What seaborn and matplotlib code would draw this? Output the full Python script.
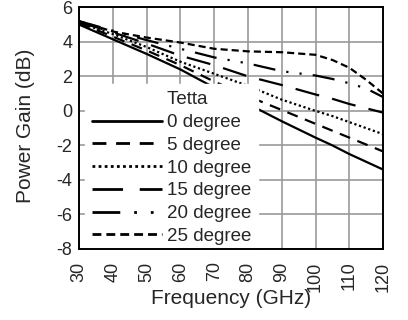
import matplotlib
matplotlib.use('Agg')
import matplotlib.pyplot as plt
import seaborn as sns
import pandas as pd

# Частоты (GHz) и усиление (dB) для каждого угла
freq = [30, 40, 50, 60, 70, 80, 90, 100, 105, 110, 115, 120]
gain_0 = [5.0, 4.15, 3.3, 2.4, 1.35, 0.4, -0.6, -1.55, -2.0, -2.5, -2.95, -3.4]
gain_5 = [5.1, 4.3, 3.5, 2.65, 1.7, 0.85, 0.05, -0.75, -1.15, -1.55, -1.95, -2.35]
gain_10 = [5.1, 4.45, 3.7, 2.85, 2.15, 1.45, 0.65, 0.0, -0.3, -0.65, -1.0, -1.35]
gain_15 = [5.15, 4.55, 3.9, 3.2, 2.65, 2.0, 1.5, 0.95, 0.7, 0.4, 0.15, -0.1]
gain_20 = [5.2, 4.65, 4.1, 3.6, 3.1, 2.75, 2.3, 2.05, 1.85, 1.6, 1.3, 0.8]
gain_25 = [5.2, 4.6, 4.25, 3.96, 3.6, 3.45, 3.4, 3.25, 2.95, 2.5, 1.8, 1.0]
labels = ['0 degree', '5 degree', '10 degree', '15 degree', '20 degree', '25 degree']

rows = []
for lab, g in zip(labels, [gain_0, gain_5, gain_10, gain_15, gain_20, gain_25]):
    for f, v in zip(freq, g):
        rows.append({'freq': f, 'gain': v, 'Tetta': lab})
df = pd.DataFrame(rows)

sns.set_style('white')
plt.rcParams['font.family'] = ['Liberation Sans', 'DejaVu Sans']
plt.rcParams['axes.unicode_minus'] = False

dashes = {
    '0 degree': '',
    '5 degree': (5, 3.5),
    '10 degree': (1, 1.2),
    '15 degree': (11, 6),
    '20 degree': (10, 5, 1, 5, 1, 5),
    '25 degree': (3.2, 1.8),
}

fig = plt.figure(figsize=(4.08, 3.2), dpi=100)
ax = fig.add_axes([0.194, 0.222, 0.745, 0.755])

sns.lineplot(data=df, x='freq', y='gain', style='Tetta', dashes=dashes,
             color='black', linewidth=1.6, ax=ax)

ax.set_xlim(30, 120)
ax.set_ylim(-8, 6)
ax.set_xticks(range(30, 121, 10))
ax.set_yticks(range(-8, 7, 2))
ax.tick_params(axis='x', labelrotation=90, direction='in', length=3,
               labelsize=13, pad=9)
ax.tick_params(axis='y', direction='out', length=3, labelsize=13, pad=2)
ax.grid(True, color='#999999', linewidth=1.2)
ax.set_axisbelow(True)
for s in ax.spines.values():
    s.set_color('black')
    s.set_linewidth(1.4)
    s.set_zorder(6)
ax.set_xlabel('Frequency (GHz)', fontsize=15, va='top')
ax.xaxis.set_label_coords(0.5, -0.165)
ax.set_ylabel('Power Gain (dB)', fontsize=15)
ax.yaxis.set_label_coords(-0.145, 0.51)

leg = ax.legend(title='      Tetta', loc='lower left', bbox_to_anchor=(0.012, -0.022),
                handlelength=3.7, frameon=True, fancybox=False, edgecolor='white',
                framealpha=1, borderaxespad=0.1, labelspacing=0.3,
                borderpad=0.4, fontsize=13.5, title_fontsize=13.5,
                handletextpad=0.27)
for h in leg.get_lines():
    h.set_linewidth(2.0)

plt.savefig('out.png', dpi=100)
plt.close()
